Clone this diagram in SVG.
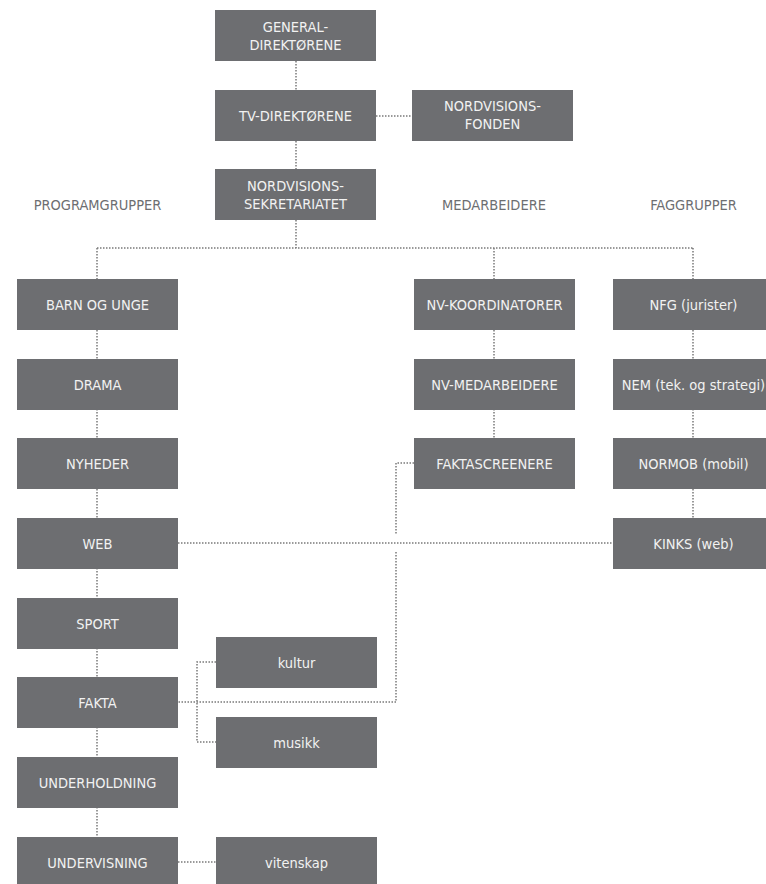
<svg xmlns="http://www.w3.org/2000/svg" width="766" height="884" viewBox="0 0 766 884">
<style>
.box{fill:#6d6e71}
.t{font-family:"DejaVu Sans Condensed","DejaVu Sans",sans-serif;font-stretch:condensed;font-size:14.5px;fill:#f2f2f2;text-anchor:middle}
.h{font-family:"DejaVu Sans Condensed","DejaVu Sans",sans-serif;font-stretch:condensed;font-size:14.5px;fill:#6d6e71;text-anchor:middle}
.c{fill:none;stroke:#7a7a7a;stroke-width:1.5;stroke-dasharray:1.5 1.5}
</style>
<rect width="766" height="884" fill="#ffffff"/>
<g id="connectors">
<path class="c" d="M296 61V90M296 141V169M296 220V248M376 116H412"/>
<path class="c" d="M97 248H693M97 248V279M494 248V279M693 248V279"/>
<path class="c" d="M97 330V359M97 409V438M97 489V518M97 568V598M97 648V677M97 727V757M97 807V837"/>
<path class="c" d="M494 330V359M494 409V438"/>
<path class="c" d="M693 330V359M693 409V438M693 489V518"/>
<path class="c" d="M178 543H613"/>
<path class="c" d="M414 463H396V535M396 552V702H178"/>
<path class="c" d="M216 662H197V742H216"/>
<path class="c" d="M178 862H216"/>
</g>
<g id="general"><rect class="box" x="215" y="10" width="161" height="51"/><text class="t" x="295.5" y="32">GENERAL-</text><text class="t" x="295.5" y="50">DIREKTØRENE</text></g>
<g id="tv"><rect class="box" x="215" y="90" width="161" height="51"/><text class="t" x="295.5" y="121">TV-DIREKTØRENE</text></g>
<g id="fonden"><rect class="box" x="412" y="90" width="161" height="51"/><text class="t" x="492.5" y="111">NORDVISIONS-</text><text class="t" x="492.5" y="129">FONDEN</text></g>
<g id="sekretariatet"><rect class="box" x="215" y="169" width="161" height="51"/><text class="t" x="295.5" y="191">NORDVISIONS-</text><text class="t" x="295.5" y="209">SEKRETARIATET</text></g>
<g id="headings"><text class="h" x="97.5" y="210">PROGRAMGRUPPER</text><text class="h" x="494" y="210">MEDARBEIDERE</text><text class="h" x="693.5" y="210">FAGGRUPPER</text></g>
<g id="barn"><rect class="box" x="17" y="279" width="161" height="51"/><text class="t" x="97.5" y="310">BARN OG UNGE</text></g>
<g id="drama"><rect class="box" x="17" y="359" width="161" height="51"/><text class="t" x="97.5" y="390">DRAMA</text></g>
<g id="nyheder"><rect class="box" x="17" y="438" width="161" height="51"/><text class="t" x="97.5" y="469">NYHEDER</text></g>
<g id="web"><rect class="box" x="17" y="518" width="161" height="51"/><text class="t" x="97.5" y="549">WEB</text></g>
<g id="sport"><rect class="box" x="17" y="598" width="161" height="51"/><text class="t" x="97.5" y="629">SPORT</text></g>
<g id="fakta"><rect class="box" x="17" y="677" width="161" height="51"/><text class="t" x="97.5" y="708">FAKTA</text></g>
<g id="underholdning"><rect class="box" x="17" y="757" width="161" height="51"/><text class="t" x="97.5" y="788">UNDERHOLDNING</text></g>
<g id="undervisning"><rect class="box" x="17" y="837" width="161" height="51"/><text class="t" x="97.5" y="868">UNDERVISNING</text></g>
<g id="kultur"><rect class="box" x="216" y="637" width="161" height="51"/><text class="t" x="296.5" y="668">kultur</text></g>
<g id="musikk"><rect class="box" x="216" y="717" width="161" height="51"/><text class="t" x="296.5" y="748">musikk</text></g>
<g id="vitenskap"><rect class="box" x="216" y="837" width="161" height="51"/><text class="t" x="296.5" y="868">vitenskap</text></g>
<g id="nvkoordinatorer"><rect class="box" x="414" y="279" width="161" height="51"/><text class="t" x="494.5" y="310">NV-KOORDINATORER</text></g>
<g id="nvmedarbeidere"><rect class="box" x="414" y="359" width="161" height="51"/><text class="t" x="494.5" y="390">NV-MEDARBEIDERE</text></g>
<g id="faktascreenere"><rect class="box" x="414" y="438" width="161" height="51"/><text class="t" x="494.5" y="469">FAKTASCREENERE</text></g>
<g id="nfg"><rect class="box" x="613" y="279" width="161" height="51"/><text class="t" x="693.5" y="310">NFG (jurister)</text></g>
<g id="nem"><rect class="box" x="613" y="359" width="161" height="51"/><text class="t" x="693.5" y="390">NEM (tek. og strategi)</text></g>
<g id="normob"><rect class="box" x="613" y="438" width="161" height="51"/><text class="t" x="693.5" y="469">NORMOB (mobil)</text></g>
<g id="kinks"><rect class="box" x="613" y="518" width="161" height="51"/><text class="t" x="693.5" y="549">KINKS (web)</text></g>
</svg>
